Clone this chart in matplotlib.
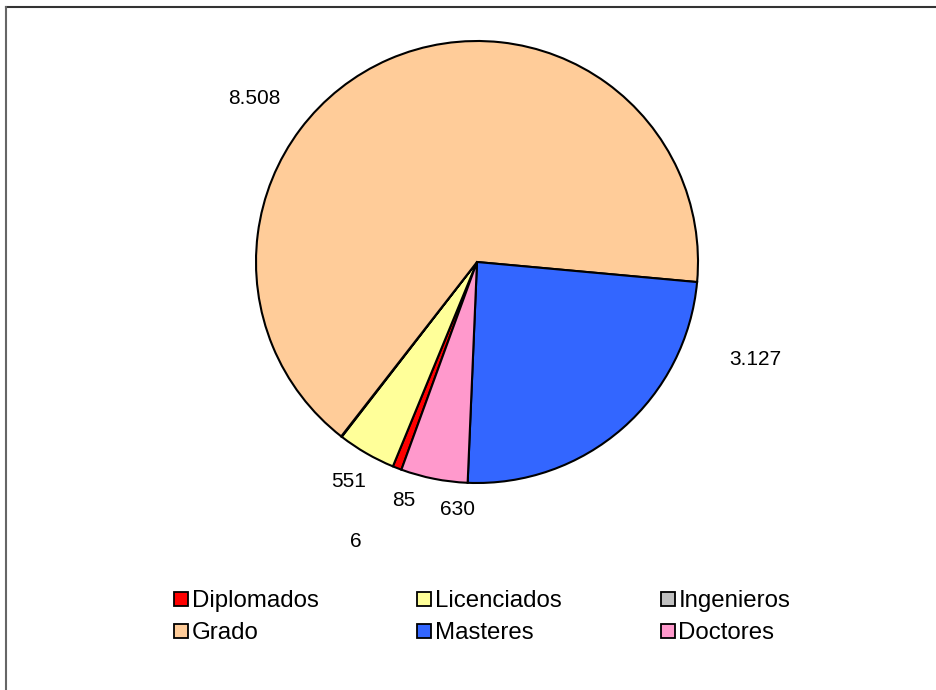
import matplotlib.pyplot as plt
from matplotlib.lines import Line2D

plt.rcParams['font.family'] = ['Liberation Sans', 'DejaVu Sans']

# datos del gráfico
categorias = ["Diplomados", "Licenciados", "Ingenieros", "Grado", "Masteres", "Doctores"]
valores = [85, 551, 6, 8508, 3127, 630]
etiquetas = ["85", "551", "6", "8.508", "3.127", "630"]
colores = ["#FF0000", "#FFFF99", "#C0C0C0", "#FFCC99", "#3366FF", "#FF99CC"]

# posiciones de las etiquetas (en radios del círculo)
pos_etiquetas = [(-0.333, -1.079), (-0.579, -0.993), (-0.548, -1.265),
                 (-1.009, 0.740), (1.258, -0.443), (-0.088, -1.120)]

W, H = 937, 690
fig = plt.figure(figsize=(W / 100, H / 100), dpi=100)

# borde del área del gráfico (solo arriba e izquierda visibles)
fig.add_artist(Line2D([6 / W, 1.0], [1 - 6.5 / H, 1 - 6.5 / H], color='#333333', lw=1.5))
fig.add_artist(Line2D([6 / W, 6 / W], [0.0, 1 - 6.5 / H], color='#666666', lw=1.5))

cx, cy, r = 477, 262, 221
ax = fig.add_axes([(cx - r) / W, 1 - (cy + r) / H, 2 * r / W, 2 * r / H])
wedges, _ = ax.pie(valores, colors=colores, startangle=-110, counterclock=False,
                   wedgeprops=dict(edgecolor='black', linewidth=1.5))
ax.set_xlim(-1, 1)
ax.set_ylim(-1, 1)

for txt, (x, y) in zip(etiquetas, pos_etiquetas):
    ax.text(x, y, txt, ha='center', va='center', fontsize=15)

handles = [Line2D([], [], marker='s', linestyle='none', markersize=9.4,
                  markerfacecolor=c, markeredgecolor='black', markeredgewidth=1.3)
           for c in colores]
# la leyenda de matplotlib rellena por columnas: reordenar para que vaya por filas
orden = [0, 3, 1, 4, 2, 5]
fig.legend([handles[i] for i in orden], [categorias[i] for i in orden],
           loc='center', bbox_to_anchor=(482 / W, 1 - 617 / H),
           ncol=3, frameon=False, fontsize=17.3, handlelength=0.6, handletextpad=0.15,
           columnspacing=4.1, labelspacing=0.42, borderpad=0)

fig.savefig("out.png", dpi=100)
